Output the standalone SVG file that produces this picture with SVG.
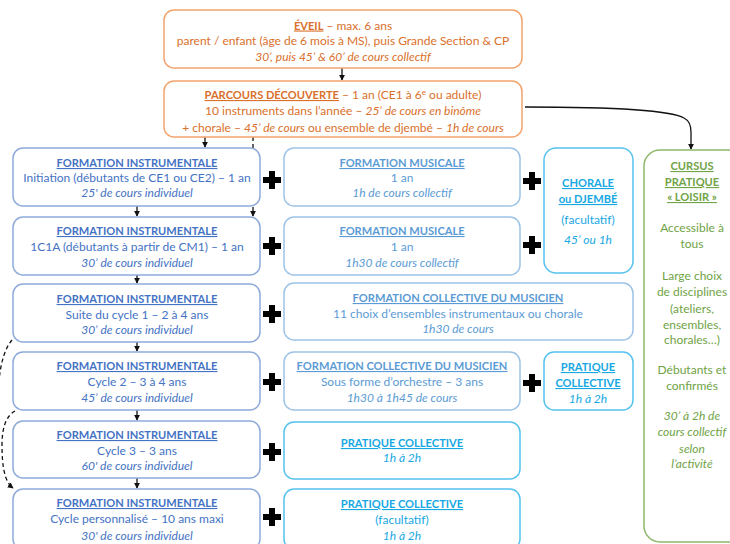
<svg xmlns="http://www.w3.org/2000/svg" xmlns:xlink="http://www.w3.org/1999/xlink" width="730" height="544" viewBox="0 0 730 544">
<defs>
<style>
.t{font-family:Lato,'Liberation Sans',sans-serif;font-size:12px;text-anchor:middle}
.b{font-weight:bold;text-decoration:underline;font-size:11.1px}
.i{font-style:italic}
.or{fill:#D9702B}
.bl{fill:#4472C4}
.lb{fill:#5B9BD5}
.cy{fill:#17A8E3}
.gr{fill:#6FA346}
.box{fill:#fff;stroke-width:1.5}
.bor{stroke:#F2A46C}
.bbl{stroke:#8EAADB}
.blb{stroke:#9DC3E6}
.bcy{stroke:#56C2EE}
.bgr{stroke:#8DB86B}
.con{fill:none;stroke:#111;stroke-width:1.3}
.dash{stroke-dasharray:4 3}
</style>
<marker id="ah" viewBox="0 0 8 8" refX="7" refY="4" markerWidth="6" markerHeight="6" orient="auto" markerUnits="userSpaceOnUse">
<path d="M0,0 L8,4 L0,8 z" fill="#111"/>
</marker>
<path id="plus" d="M-3,-9 H3 V-3 H9 V3 H3 V9 H-3 V3 H-9 V-3 H-3 Z" fill="#000"/>
</defs>
<rect width="730" height="544" fill="#fff"/>

<g id="connectors">
<path class="con" d="M342,68 V80" marker-end="url(#ah)"/>
<path class="con" d="M205,137 V147" marker-end="url(#ah)"/>
<path class="con dash" d="M253,137 V216" marker-end="url(#ah)"/>
<path class="con" d="M137,206 V216" marker-end="url(#ah)"/>
<path class="con" d="M137,275 V283" marker-end="url(#ah)"/>
<path class="con" d="M137,342 V351" marker-end="url(#ah)"/>
<path class="con" d="M137,410 V420" marker-end="url(#ah)"/>
<path class="con" d="M137,478 V488" marker-end="url(#ah)"/>
<path class="con" d="M525,107 C600,107 670,110 684,118 C690,121 691,126 691,132 V149" marker-end="url(#ah)"/>
<path class="con dash" d="M12,340 C5,348 1,362 -1,380 L-4,440"/>
<path class="con dash" d="M15,411 C6,416 2,428 2,445 C2,468 5,482 13,488" marker-end="url(#ah)"/>
</g>

<g id="eveil">
<rect class="box bor" x="164" y="10" width="358" height="58" rx="10"/>
<text class="t or" x="343" y="29.5"><tspan class="b" font-size="12">ÉVEIL</tspan> – max. 6 ans</text>
<text class="t or" x="343" y="45">parent / enfant (âge de 6 mois à MS), puis Grande Section &amp; CP</text>
<text class="t or i" x="343" y="61">30’, puis 45’ &amp; 60’ de cours collectif</text>
</g>

<g id="parcours">
<rect class="box bor" x="164" y="81" width="358" height="56" rx="10"/>
<text class="t or" x="343" y="99"><tspan class="b" font-size="12">PARCOURS DÉCOUVERTE</tspan> – 1 an (CE1 à 6<tspan font-size="8" dy="-4">e</tspan><tspan dy="4"> ou adulte)</tspan></text>
<text class="t or" x="343" y="115">10 instruments dans l’année – <tspan class="i">25’ de cours en binôme</tspan></text>
<text class="t or" x="343" y="132">+ chorale – <tspan class="i">45’ de cours</tspan> ou ensemble de djembé – <tspan class="i">1h de cours</tspan></text>
</g>

<g id="fi1">
<rect class="box bbl" x="13" y="148" width="247" height="58" rx="10"/>
<text class="t bl b" x="137" y="167">FORMATION INSTRUMENTALE</text>
<text class="t bl" x="137" y="182">Initiation (débutants de CE1 ou CE2) – 1 an</text>
<text class="t bl i" x="137" y="197">25' de cours individuel</text>
</g>
<g id="fi2">
<rect class="box bbl" x="13" y="217" width="247" height="58" rx="10"/>
<text class="t bl b" x="137" y="235">FORMATION INSTRUMENTALE</text>
<text class="t bl" x="137" y="251">1C1A (débutants à partir de CM1) – 1 an</text>
<text class="t bl i" x="137" y="267">30’ de cours individuel</text>
</g>
<g id="fi3">
<rect class="box bbl" x="13" y="284" width="247" height="58" rx="10"/>
<text class="t bl b" x="137" y="303">FORMATION INSTRUMENTALE</text>
<text class="t bl" x="137" y="319">Suite du cycle 1 – 2 à 4 ans</text>
<text class="t bl i" x="137" y="334">30’ de cours individuel</text>
</g>
<g id="fi4">
<rect class="box bbl" x="13" y="352" width="247" height="58" rx="10"/>
<text class="t bl b" x="137" y="370">FORMATION INSTRUMENTALE</text>
<text class="t bl" x="137" y="386">Cycle 2 – 3 à 4 ans</text>
<text class="t bl i" x="137" y="402">45’ de cours individuel</text>
</g>
<g id="fi5">
<rect class="box bbl" x="13" y="421" width="247" height="57" rx="10"/>
<text class="t bl b" x="137" y="439">FORMATION INSTRUMENTALE</text>
<text class="t bl" x="137" y="455">Cycle 3 – 3 ans</text>
<text class="t bl i" x="137" y="470">60' de cours individuel</text>
</g>
<g id="fi6">
<rect class="box bbl" x="13" y="489" width="247" height="60" rx="10"/>
<text class="t bl b" x="137" y="507">FORMATION INSTRUMENTALE</text>
<text class="t bl" x="137" y="523">Cycle personnalisé – 10 ans maxi</text>
<text class="t bl i" x="137" y="540">30' de cours individuel</text>
</g>

<g id="plus-signs">
<use xlink:href="#plus" x="272" y="180"/>
<use xlink:href="#plus" x="272" y="246"/>
<use xlink:href="#plus" x="272" y="314"/>
<use xlink:href="#plus" x="272" y="382"/>
<use xlink:href="#plus" x="272" y="452"/>
<use xlink:href="#plus" x="272" y="517"/>
<use xlink:href="#plus" x="532" y="181"/>
<use xlink:href="#plus" x="532" y="245"/>
<use xlink:href="#plus" x="532" y="383"/>
</g>

<g id="fm1">
<rect class="box blb" x="284" y="148" width="236" height="58" rx="10"/>
<text class="t lb b" x="402" y="167">FORMATION MUSICALE</text>
<text class="t lb" x="402" y="182">1 an</text>
<text class="t lb i" x="402" y="197">1h de cours collectif</text>
</g>
<g id="fm2">
<rect class="box blb" x="284" y="217" width="236" height="58" rx="10"/>
<text class="t lb b" x="402" y="235">FORMATION MUSICALE</text>
<text class="t lb" x="402" y="251">1 an</text>
<text class="t lb i" x="402" y="267">1h30 de cours collectif</text>
</g>
<g id="chorale">
<rect class="box bcy" x="544" y="148" width="89" height="125" rx="12"/>
<text class="t cy b" x="588" y="187">CHORALE</text>
<text class="t cy b" x="588" y="203">ou DJEMBÉ</text>
<text class="t cy" x="588" y="224">(facultatif)</text>
<text class="t cy i" x="588" y="244">45’ ou 1h</text>
</g>
<g id="fcm1">
<rect class="box blb" x="284" y="283" width="349" height="57" rx="10"/>
<text class="t lb b" x="458" y="302">FORMATION COLLECTIVE DU MUSICIEN</text>
<text class="t lb" x="458" y="318">11 choix d’ensembles instrumentaux ou chorale</text>
<text class="t lb i" x="458" y="333">1h30 de cours</text>
</g>
<g id="fcm2">
<rect class="box blb" x="284" y="352" width="236" height="58" rx="10"/>
<text class="t lb b" x="402" y="370">FORMATION COLLECTIVE DU MUSICIEN</text>
<text class="t lb" x="402" y="386">Sous forme d’orchestre – 3 ans</text>
<text class="t lb i" x="402" y="402">1h30 à 1h45 de cours</text>
</g>
<g id="pc1">
<rect class="box bcy" x="544" y="352" width="89" height="58" rx="10"/>
<text class="t cy b" x="588" y="371">PRATIQUE</text>
<text class="t cy b" x="588" y="387">COLLECTIVE</text>
<text class="t cy i" x="588" y="403">1h à 2h</text>
</g>
<g id="pc2">
<rect class="box bcy" x="284" y="422" width="236" height="57" rx="10"/>
<text class="t cy b" x="402" y="447">PRATIQUE COLLECTIVE</text>
<text class="t cy i" x="402" y="462">1h à 2h</text>
</g>
<g id="pc3">
<rect class="box bcy" x="284" y="489" width="236" height="60" rx="10"/>
<text class="t cy b" x="402" y="508">PRATIQUE COLLECTIVE</text>
<text class="t cy" x="402" y="524">(facultatif)</text>
<text class="t cy i" x="402" y="540">1h à 2h</text>
</g>

<g id="cursus">
<rect class="box bgr" x="644" y="150" width="110" height="392" rx="16"/>
<text class="t gr b" x="692" y="170">CURSUS</text>
<text class="t gr b" x="692" y="186">PRATIQUE</text>
<text class="t gr b" x="692" y="201">« LOISIR »</text>
<text class="t gr" x="692" y="232">Accessible à</text>
<text class="t gr" x="692" y="248">tous</text>
<text class="t gr" x="692" y="280">Large choix</text>
<text class="t gr" x="692" y="296">de disciplines</text>
<text class="t gr" x="692" y="313">(ateliers,</text>
<text class="t gr" x="692" y="329">ensembles,</text>
<text class="t gr" x="692" y="344">chorales…)</text>
<text class="t gr" x="692" y="374">Débutants et</text>
<text class="t gr" x="692" y="390">confirmés</text>
<text class="t gr i" x="692" y="420">30’ à 2h de</text>
<text class="t gr i" x="692" y="436">cours collectif</text>
<text class="t gr i" x="692" y="453">selon</text>
<text class="t gr i" x="692" y="468">l’activité</text>
</g>
</svg>
